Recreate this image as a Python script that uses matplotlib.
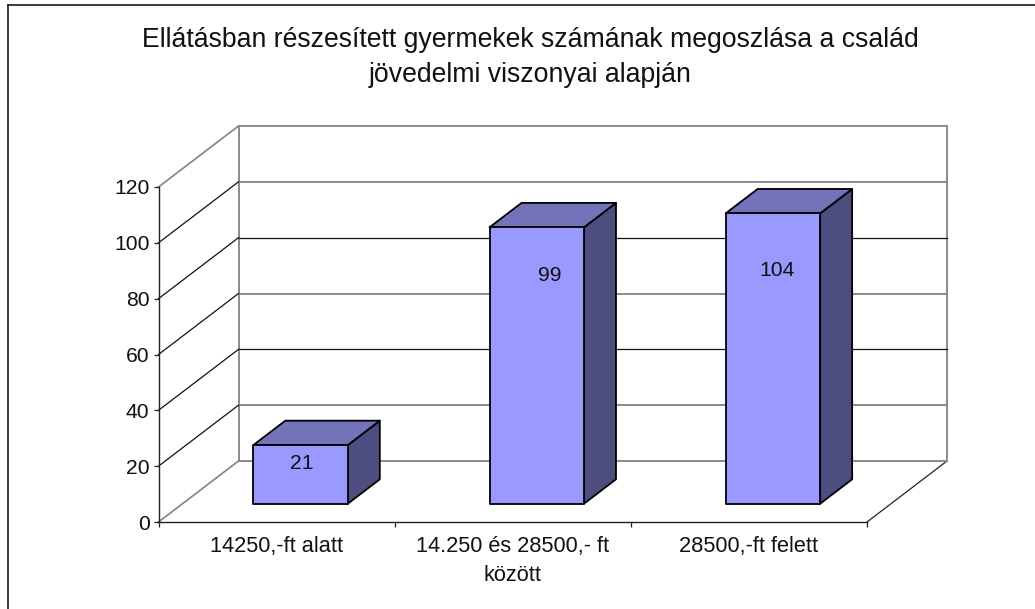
import matplotlib
matplotlib.use('Agg')
import matplotlib.pyplot as plt
from matplotlib.lines import Line2D
from matplotlib.patches import Polygon

# data
title = 'Ellátásban részesített gyermekek számának megoszlása a család\njövedelmi viszonyai alapján'
categories = ['14250,-ft alatt', '14.250 és 28500,- ft\nközött', '28500,-ft felett']
values = [21, 99, 104]
y_ticks = [0, 20, 40, 60, 80, 100, 120]

# where the value labels sit, px from the middle of the bar's top front edge
label_dx = [1, 13, 4]
label_dy = [18, 48, 57]

W, H = 1035, 609
plt.rcParams['font.family'] = ['Liberation Sans', 'DejaVu Sans']

fig = plt.figure(figsize=(W / 100, H / 100), dpi=100)

# outer border, only left and top are in the picture
fig.add_artist(Line2D([7.5 / W, 7.5 / W], [0, 1 - 4.5 / H], color='#1a1a1a', lw=1.2))
fig.add_artist(Line2D([7.5 / W, 1], [1 - 4.5 / H, 1 - 4.5 / H], color='#1a1a1a', lw=1.2))

# the axes is the front plane of the box
ax = fig.add_axes([158.5 / W, 1 - 522 / H, (867 - 158.5) / W, (522 - 187) / H])
ax.set_xlim(0, len(categories))
ax.set_ylim(0, 120)
ax.patch.set_visible(False)

# depth of the box in data units
dx = 80 / (867 - 158.5) * len(categories)
dy = 61 / (522 - 187) * 120


def proj(x, y, d):
    return (x + d * dx, y + d * dy)


grey = '#8a8a8a'

# walls
ax.plot(*zip(proj(0, 0, 1), proj(0, 120, 1)), color=grey, lw=1.4, clip_on=False, zorder=1)
ax.plot(*zip(proj(3, 0, 1), proj(3, 120, 1)), color=grey, lw=1.4, clip_on=False, zorder=1)
ax.plot(*zip(proj(0, 0, 0), proj(0, 0, 1)), color=grey, lw=1.3, clip_on=False, zorder=1)
ax.plot(*zip(proj(3, 0, 0), proj(3, 0, 1)), color='#222222', lw=0.9, clip_on=False, zorder=1)
for t in y_ticks:
    # same look as the reference: some grid lines came out grey and wider
    wide = t in (0, 20, 60, 100, 120)
    c = grey if wide else '#111111'
    w = 1.4 if wide else 0.9
    ax.plot(*zip(proj(0, t, 1), proj(3, t, 1)), color=c, lw=w, clip_on=False, zorder=1)
    if t > 0:
        c2 = grey if t == 120 else '#111111'
        ax.plot(*zip(proj(0, t, 0), proj(0, t, 1)), color=c2, lw=1.3 if t == 120 else 0.9, clip_on=False, zorder=1)

# bars
bar_w = 0.4
d0, d1 = 0.3, 0.7
for i, v in enumerate(values):
    x0 = i + 0.5 - bar_w / 2
    x1 = i + 0.5 + bar_w / 2
    front = [proj(x0, 0, d0), proj(x1, 0, d0), proj(x1, v, d0), proj(x0, v, d0)]
    top = [proj(x0, v, d0), proj(x1, v, d0), proj(x1, v, d1), proj(x0, v, d1)]
    side = [proj(x1, 0, d0), proj(x1, 0, d1), proj(x1, v, d1), proj(x1, v, d0)]
    ax.add_patch(Polygon(side, fc='#4d4d80', ec='black', lw=1.3, clip_on=False, zorder=3, joinstyle='round'))
    ax.add_patch(Polygon(top, fc='#7373ba', ec='black', lw=1.3, clip_on=False, zorder=3, joinstyle='round'))
    ax.add_patch(Polygon(front, fc='#9999ff', ec='black', lw=1.3, clip_on=False, zorder=4, joinstyle='round'))
    lx, ly = proj(i + 0.5, v, d0)
    ax.annotate(str(v), (lx, ly), xytext=(label_dx[i] * 0.72, -label_dy[i] * 0.72), textcoords='offset points',
                ha='center', va='center', fontsize=15.2, color='#111111', zorder=5, annotation_clip=False)

# axes
for s in ['top', 'right']:
    ax.spines[s].set_visible(False)
for s in ['left', 'bottom']:
    ax.spines[s].set_color('#222222')
    ax.spines[s].set_linewidth(1.0)
ax.set_yticks(y_ticks)
ax.set_xticks(range(len(categories) + 1))
ax.set_xticklabels([])
ax.tick_params(axis='both', length=3.6, width=0.9, color='#222222')
ax.tick_params(axis='y', labelsize=15.2, pad=2.8, labelcolor='#111111')
for i, c in enumerate(categories):
    ax.annotate(c, (i + 0.5, 0), xytext=(0, -10), textcoords='offset points', ha='center', va='top',
                fontsize=15.7, color='#111111', linespacing=1.5, annotation_clip=False)

fig.text(530 / W, 1 - 27 / H, title, ha='center', va='top', fontsize=19.2, color='#111111', linespacing=1.45)

fig.savefig('out.png', dpi=100)
